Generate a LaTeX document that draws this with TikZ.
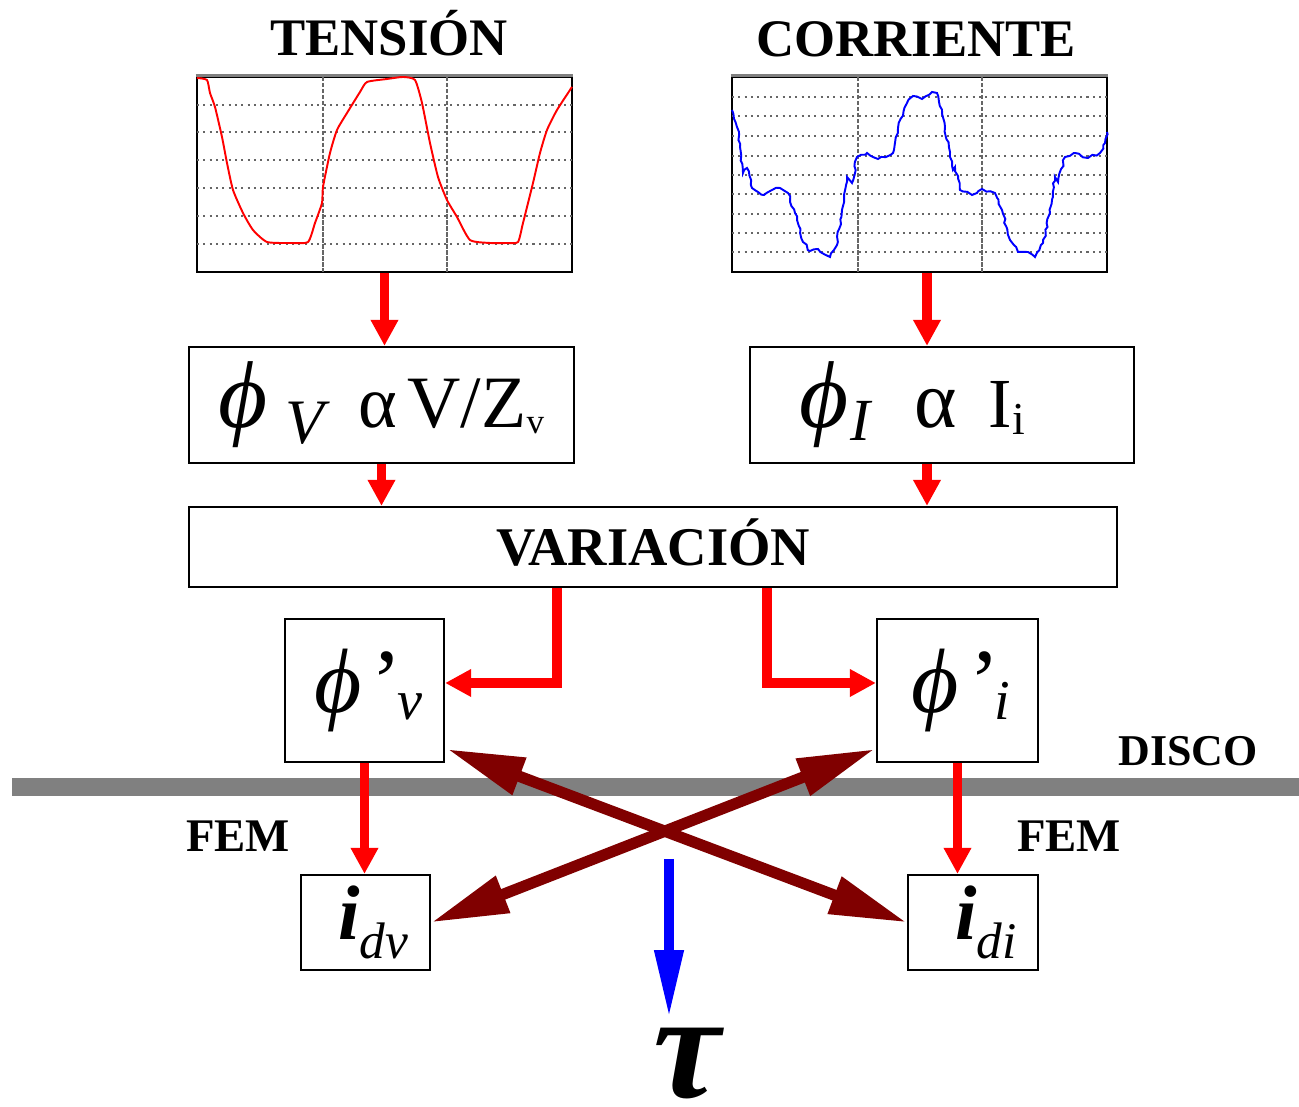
\documentclass[tikz,border=0pt]{standalone}
\usepackage{fontspec}
\setmainfont{Liberation Serif}
\usetikzlibrary{arrows.meta,decorations.pathmorphing,calc}
\definecolor{darkred}{RGB}{128,0,0}
\definecolor{discogray}{RGB}{128,128,128}
\newcommand{\setsz}[1]{\fontsize{#1}{#1}\selectfont}

\begin{document}
\begin{tikzpicture}[x=0.01cm, y=-0.01cm,
    box/.style={draw, line width=0.6pt, fill=white, inner sep=0pt},
    plotframe/.style={draw, line width=0.7pt, inner sep=0pt, minimum width=3.75cm, minimum height=1.95cm},
    title/.style={anchor=base, inner sep=0pt, font=\bfseries\setsz{15pt}},
    lbl/.style={anchor=base, inner sep=0pt, font=\bfseries\setsz{13.3pt}},
    vgrid/.style={gray!80!black, line width=0.45pt, dash pattern=on 1.2pt off 0.5pt},
    hgrid/.style={gray!80!black, line width=0.35pt, dash pattern=on 0.6pt off 1.2pt},
    redarrow/.style={draw=red, line width=2.8pt, -{Triangle[length=7.4pt,width=7.4pt]}},
    crossarrow/.style={draw=darkred, line width=3.2pt, {Triangle[length=22pt,width=10.5pt]}-{Triangle[length=22pt,width=10.5pt]}},
    bluearrow/.style={draw=blue, line width=2.85pt, -{Triangle[length=19.3pt,width=7.7pt]}}
]
    \useasboundingbox (0,0) rectangle (1299,1107);
    \pgfmathsetseed{7}

    % Titles
    \node[title] (tension) at (389,56) {TENSIÓN};
    \node[title] (corriente) at (916,57) {CORRIENTE};

    % Voltage plot
    \node[plotframe] (vplot) at (384.5,174.5) {};
    \draw[hgrid] (197,105) -- (572,105) (197,132) -- (572,132) (197,160) -- (572,160)
        (197,188) -- (572,188) (197,216) -- (572,216) (197,244) -- (572,244);
    \draw[vgrid] (323,77) -- (323,272) (447,77) -- (447,272);
    \draw[gray, line width=0.8pt] (vplot.north west) -- (vplot.north east);
    \draw[red, line width=0.55pt] plot[smooth, tension=0.35] coordinates {(197,78) (207,80) (210,93) (215,107) (222,137)
        (227,163) (233,190) (243,213) (253,230) (267,242) (290,243)
        (308,242) (315,223) (322,203) (323,187) (330,153) (337,130)
        (347,113) (360,92) (367,82) (387,79) (403,77) (415,80)
        (422,103) (430,143) (438,177) (447,200) (457,217) (470,240)
        (490,243) (507,243) (518,242) (523,223) (533,183) (540,153)
        (547,130) (557,110) (572,87)};

    % Current plot
    \node[plotframe] (iplot) at (919.5,174.5) {};
    \draw[hgrid] (732,97) -- (1107,97) (732,116) -- (1107,116) (732,136) -- (1107,136)
        (732,156) -- (1107,156) (732,175) -- (1107,175) (732,194) -- (1107,194)
        (732,214) -- (1107,214) (732,233) -- (1107,233) (732,252) -- (1107,252);
    \draw[vgrid] (858,77) -- (858,272) (982,77) -- (982,272);
    \draw[gray, line width=0.8pt] (iplot.north west) -- (iplot.north east);
    \draw[blue, line width=0.55pt, decorate, decoration={random steps, segment length=1.2pt, amplitude=0.35pt}]
        (732,110) -- (737,127) -- (740,147) -- (743,173) -- (747,168) -- (752,188)
        -- (758,192) -- (764,195) -- (772,190) -- (780,188) -- (788,193) -- (795,213)
        -- (803,242) -- (810,251) -- (818,249) -- (830,257) -- (837,245) -- (842,210)
        -- (847,177) -- (852,183) -- (857,157) -- (867,153) -- (878,159) -- (893,153)
        -- (898,128) -- (907,103) -- (913,96) -- (922,99) -- (932,92) -- (937,93)
        -- (945,127) -- (950,157) -- (953,170) -- (955,167) -- (960,190) -- (972,195)
        -- (982,189) -- (995,193) -- (1002,210) -- (1010,240) -- (1018,252) -- (1028,252)
        -- (1035,257) -- (1043,243) -- (1050,213) -- (1055,177) -- (1058,182) -- (1065,157)
        -- (1075,153) -- (1088,158) -- (1100,153) -- (1105,143) -- (1107,132);

    % Flux boxes
    \node[box, minimum width=3.85cm, minimum height=1.16cm] (phiV) at (381.5,405)
        {\setsz{27pt}\textit{ϕ}\hspace{5pt}\raisebox{-4.5pt}{\setsz{18pt}\textit{V}}\hspace{8pt}\setsz{21pt}α\hspace{3pt}V/Z\raisebox{-1.7pt}{\setsz{10pt}v}};
    \node[box, minimum width=3.84cm, minimum height=1.16cm] (phiI) at (942,405)
        {\setsz{27pt}\textit{ϕ}\hspace{0.5pt}\raisebox{-3.5pt}{\setsz{17pt}\textit{I}}\hspace{12pt}\setsz{23pt}α\hspace{9pt}\setsz{20pt}I\raisebox{-2pt}{\setsz{13pt}i}\hspace*{17pt}};
    \node[box, minimum width=9.28cm, minimum height=0.8cm, text height=10.5pt, text depth=0pt,
        font=\bfseries\setsz{15.5pt}] (var) at (653,547) {VARIACIÓN};

    % Derived flux boxes
    \node[box, minimum width=1.59cm, minimum height=1.43cm] (dphiv) at (364.5,690.5)
        {\setsz{26pt}\hspace*{2pt}\textit{ϕ}\hspace{3pt}’\hspace{-1.5pt}\raisebox{-2pt}{\setsz{16pt}\textit{v}}};
    \node[box, minimum width=1.61cm, minimum height=1.43cm] (dphii) at (957.5,690.5)
        {\setsz{26pt}\hspace*{2pt}\textit{ϕ}\hspace{3pt}’\hspace{-1.5pt}\raisebox{-2pt}{\setsz{16pt}\textit{i}}};

    % Disc
    \fill[discogray] (12,778) rectangle (1299,796);
    \node[anchor=base, inner sep=0pt, font=\bfseries\setsz{12.5pt}] (disco) at (1188,766) {DISCO};
    \node[lbl] (femv) at (238,852) {FEM};
    \node[lbl] (femi) at (1069,852) {FEM};

    % Induced current boxes
    \node[box, minimum width=1.29cm, minimum height=0.95cm] (idv) at (365.5,922.5)
        {\hspace*{4.5pt}\setsz{22pt}\textbf{\textit{i}}\raisebox{-5.4pt}{\setsz{14.6pt}\textit{dv}}};
    \node[box, minimum width=1.30cm, minimum height=0.95cm] (idi) at (973,922.5)
        {\hspace*{7.4pt}\setsz{22pt}\textbf{\textit{i}}\raisebox{-5.4pt}{\setsz{14.6pt}\textit{di}}};

    % Torque
    \node[anchor=base, inner sep=0pt, font=\bfseries\itshape\setsz{43pt}] (tau) at (687,1098) {τ};
    \coordinate (tq) at (669,859);
    \coordinate (tqend) at (669,1018);

    % Draw connections
    \draw[redarrow] (vplot.south) -- (vplot.south |- phiV.north);
    \draw[redarrow] ($(iplot.south)+(7.5,0)$) -- ($(iplot.south |- phiI.north)+(7.5,0)$);
    \draw[redarrow] (phiV.south) -- (phiV.south |- var.north);
    \draw[redarrow] ($(phiI.south)+(-15,0)$) -- ($(phiI.south |- var.north)+(-15,0)$);
    \draw[redarrow] ($(var.south)+(-96,0)$) |- ($(dphiv.east)+(0,-7.5)$);
    \draw[redarrow] ($(var.south)+(114,0)$) |- ($(dphii.west)+(0,-7.5)$);
    \draw[redarrow] (dphiv.south) -- (dphiv.south |- idv.north);
    \draw[redarrow] (dphii.south) -- (dphii.south |- idi.north);
    \draw[crossarrow] ($(dphiv.south east)+(2,-14)$) -- (idi.west);
    \draw[crossarrow] ($(dphii.south west)+(-1,-14)$) -- (idv.east);
    \draw[bluearrow] (tq) -- (tqend);
\end{tikzpicture}
\end{document}
